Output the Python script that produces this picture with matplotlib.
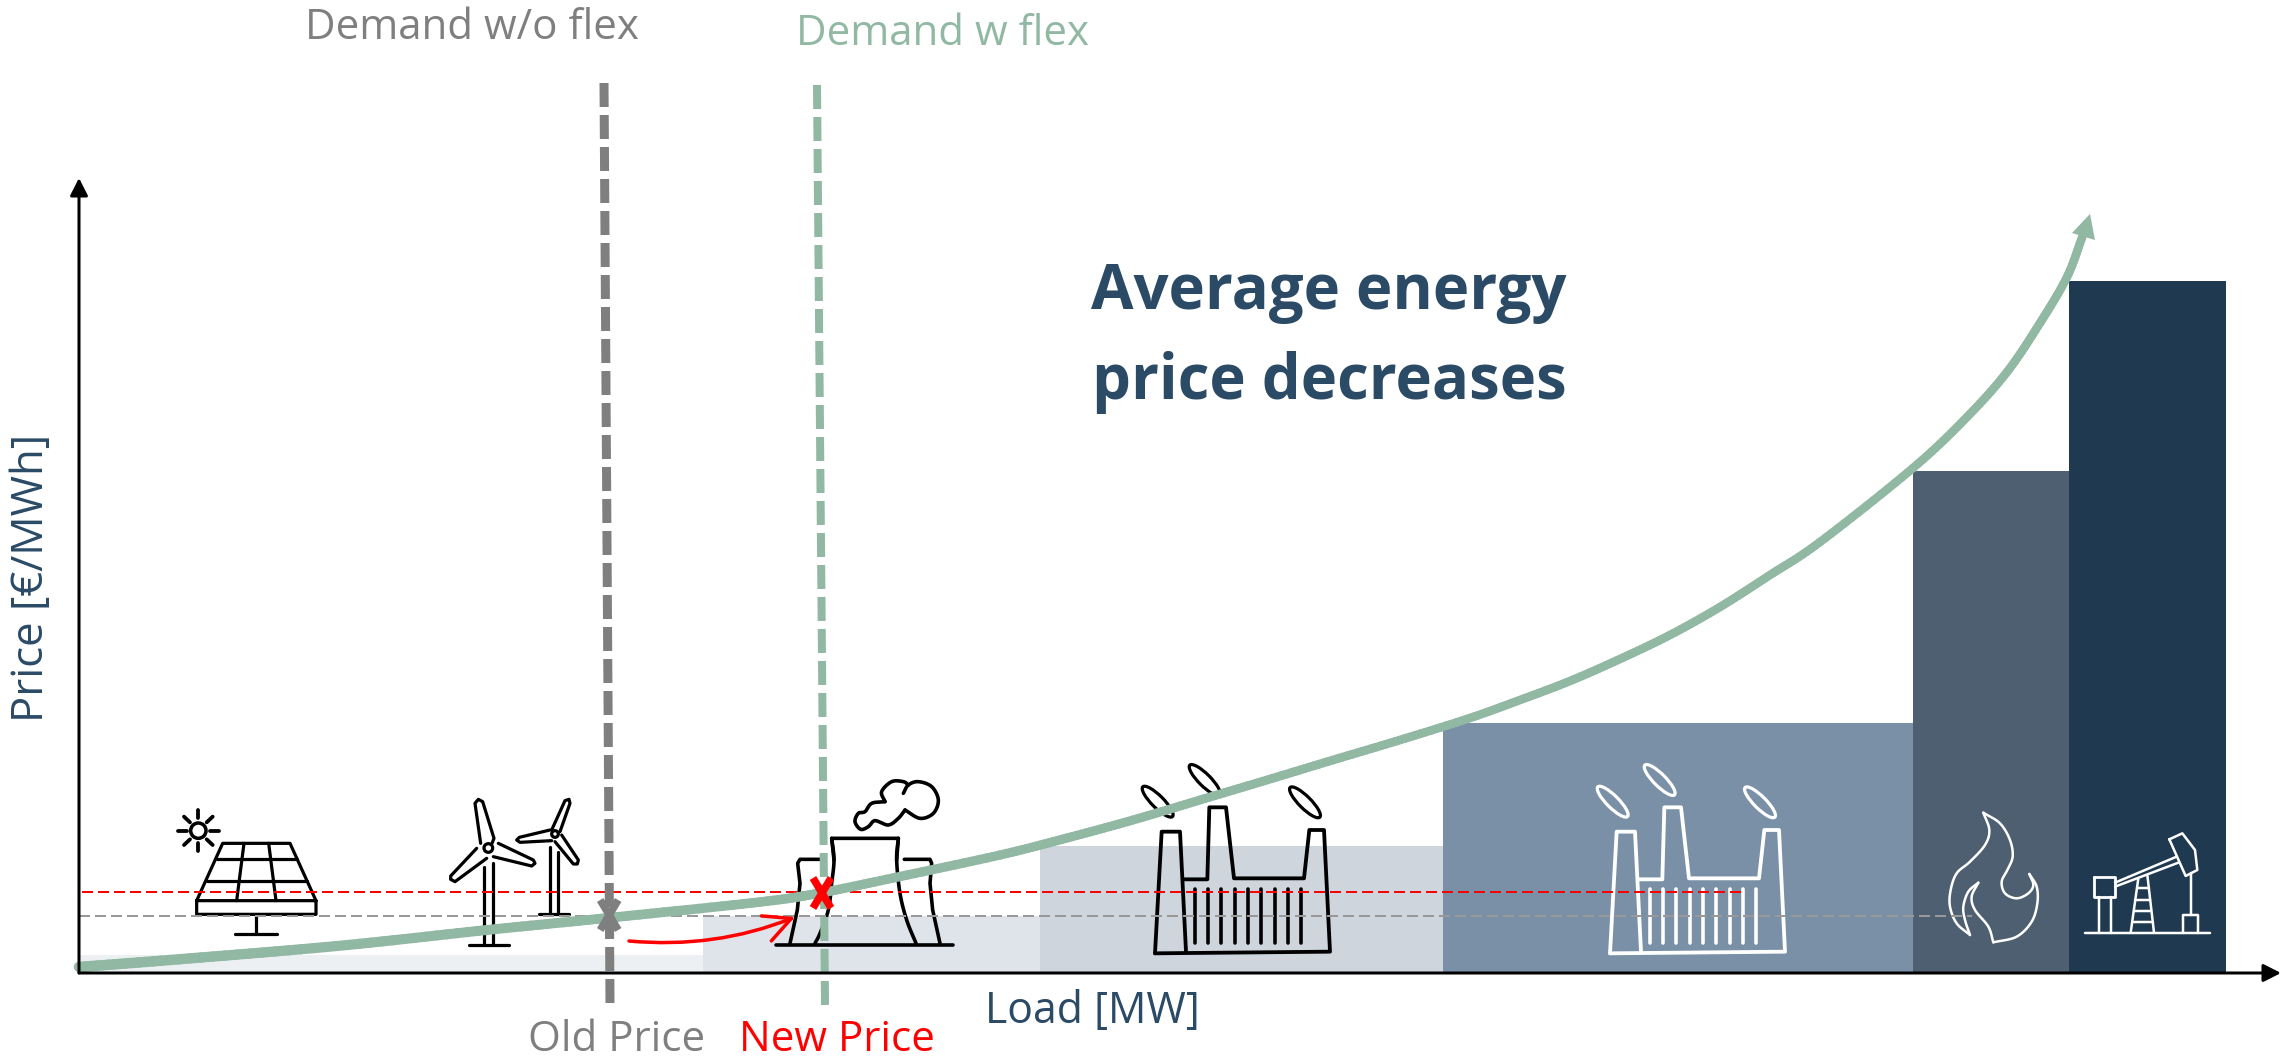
import numpy as np
import matplotlib
matplotlib.use('Agg')
import matplotlib.pyplot as plt
from matplotlib.collections import LineCollection
from matplotlib.patches import Ellipse, Circle, Polygon

# Supply stack (no scale on the axes, so picture units)
load_edges = [0, 624, 961, 1364, 1834, 1990, 2147]
stack_price = [18, 57, 127, 250, 502, 692]
stack_colors = ['#ecf0f3', '#dfe3ea', '#cfd5dd', '#7a90a6', '#4d5f71', '#1f3a50']

# Merit order curve
curve_load = [0, 91, 258, 408, 528, 681, 741, 814, 921, 988, 1054, 1121, 1188, 1254, 1321,
              1391, 1441, 1491, 1541, 1591, 1641, 1691, 1741, 1834, 1888, 1928, 1961, 1988, 2004]
curve_price = [6, 13, 27, 43, 55, 71, 80, 95, 118, 135, 153, 173, 193, 213, 233,
               255, 273, 292, 314, 338, 366, 398, 431, 505, 556, 601, 650, 696, 738]
curve_tip = (2011, 759)

old_demand = [525, 531]
new_demand = [738, 746]
old_price = 57
new_price = 81

GREEN = '#91b8a3'
GREY = '#7f7f7f'
BLUE = '#2a4a66'
RED = '#ff0000'
ORIGIN_X = 79
AXIS_Y = 973
PX = 0.72  # points per pixel at dpi 100

plt.rcParams['font.family'] = ['Open Sans', 'DejaVu Sans']

fig = plt.figure(figsize=(22.86, 10.62), dpi=100)
ax = fig.add_axes([0, 0, 1, 1])
ax.set_xlim(-ORIGIN_X, 2286 - ORIGIN_X)
ax.set_ylim(AXIS_Y - 1062, AXIS_Y)
ax.axis('off')


def crop(pts, ox, oy):
    # icon points were read in 3x crops, ox/oy is the crop corner in pixels
    pts = np.array(pts, dtype=float)
    return ox + pts[:, 0] / 3 - ORIGIN_X, AXIS_Y - (oy + pts[:, 1] / 3)


def smooth(x, y, n=14):
    # Catmull-Rom through the given points, only to round off the drawn line
    x = np.array(x, dtype=float)
    y = np.array(y, dtype=float)
    px = np.r_[2 * x[0] - x[1], x, 2 * x[-1] - x[-2]]
    py = np.r_[2 * y[0] - y[1], y, 2 * y[-1] - y[-2]]
    t = np.linspace(0, 1, n, endpoint=False)[:, None]
    out_x, out_y = [], []
    for i in range(1, len(px) - 2):
        for p, out in ((px, out_x), (py, out_y)):
            a, b, c, d = p[i - 1], p[i], p[i + 1], p[i + 2]
            v = 0.5 * (2 * b + (c - a) * t + (2 * a - 5 * b + 4 * c - d) * t ** 2 + (3 * b - a - 3 * c + d) * t ** 3)
            out.extend(v.ravel())
    out_x.append(x[-1])
    out_y.append(y[-1])
    return np.array(out_x), np.array(out_y)


def stroke(pts, ox, oy, color='black', lw=3.2, curved=False, z=2):
    x, y = crop(pts, ox, oy)
    if curved:
        x, y = smooth(x, y)
    ax.plot(x, y, color=color, lw=lw * PX, solid_capstyle='round', solid_joinstyle='round', zorder=z)


def ring(cx, cy, r, ox, oy, color='black', lw=3.2):
    x, y = crop([(cx, cy)], ox, oy)
    ax.add_patch(Circle((x[0], y[0]), r / 3, fill=False, ec=color, lw=lw * PX, zorder=2))


def factory(ox, oy, color):
    stroke([(105, 610), (125, 245), (180, 245), (198, 605)], ox, oy, color, 3.8)
    stroke([(105, 610), (630, 605), (612, 240), (568, 240), (552, 385), (342, 385),
            (318, 172), (268, 172), (262, 388), (190, 388)], ox, oy, color, 3.8)
    for sx in range(224, 545, 40):
        stroke([(sx, 418), (sx, 578)], ox, oy, color, 3.6)
    for ex, ey in [(113, 155), (254, 90), (555, 157)]:
        x, y = crop([(ex, ey)], ox, oy)
        ax.add_patch(Ellipse((x[0], y[0]), 42, 12, angle=-45, fill=False, ec=color, lw=3.2 * PX, zorder=2))


# Stack bars
ax.bar(load_edges[:-1], stack_price, width=np.diff(load_edges), align='edge',
       color=stack_colors, linewidth=0, zorder=1)

# Solar panel
SOL = (170, 780)
ring(85, 152, 23, *SOL, lw=3.5)
for a, b in [((85, 90), (85, 115)), ((85, 190), (85, 212)), ((25, 152), (50, 152)), ((120, 152), (147, 152)),
             ((42, 110), (60, 127)), ((128, 110), (110, 127)), ((42, 195), (60, 178)), ((128, 195), (110, 178))]:
    stroke([a, b], *SOL, lw=3.8)
stroke([(80, 362), (158, 190), (360, 190), (438, 362), (80, 362), (80, 403), (438, 403), (438, 362)], *SOL)
stroke([(142, 238), (382, 238)], *SOL)
stroke([(112, 302), (412, 302)], *SOL)
stroke([(222, 190), (200, 362)], *SOL)
stroke([(296, 190), (318, 362)], *SOL)
stroke([(258, 403), (258, 462)], *SOL)
stroke([(195, 462), (322, 462)], *SOL)

# Wind turbines
ring(955, 204, 13, *SOL)
stroke([(942, 260), (942, 490)], *SOL)
stroke([(970, 248), (970, 490)], *SOL)
stroke([(897, 494), (1017, 494)], *SOL)
stroke([(932, 190), (915, 70), (925, 58), (938, 65), (972, 175), (966, 190)], *SOL)
stroke([(985, 190), (1090, 240), (1095, 250), (1085, 258), (970, 230)], *SOL)
stroke([(920, 205), (842, 288), (842, 298), (855, 305), (950, 235)], *SOL)
ring(1155, 162, 10, *SOL)
stroke([(1141, 200), (1141, 400)], *SOL)
stroke([(1163, 215), (1163, 400)], *SOL)
stroke([(1108, 403), (1196, 403)], *SOL)
stroke([(1145, 150), (1185, 62), (1197, 58), (1200, 70), (1170, 155)], *SOL)
stroke([(1140, 150), (1048, 172), (1040, 180), (1050, 187), (1145, 182)], *SOL)
stroke([(1175, 165), (1225, 240), (1222, 252), (1210, 252), (1155, 185)], *SOL)

# Nuclear plant
NUC = (760, 760)
stroke([(48, 554), (580, 554)], *NUC, lw=3.6)
stroke([(222, 300), (215, 235), (415, 235), (410, 300)], *NUC, lw=3.6)
stroke([(215, 235), (222, 300), (215, 370), (205, 450), (180, 520), (165, 550)], *NUC, curved=True, lw=3.6)
stroke([(415, 235), (410, 300), (420, 400), (440, 480), (468, 550)], *NUC, curved=True, lw=3.6)
stroke([(180, 298), (120, 298), (113, 310), (120, 370), (112, 450), (90, 550)], *NUC, lw=3.6)
stroke([(433, 298), (510, 298), (515, 310), (510, 370), (518, 450), (540, 550)], *NUC, lw=3.6)
stroke([(375, 125), (335, 130), (315, 155), (295, 160), (285, 185), (302, 208), (325, 200),
        (345, 182), (385, 195), (415, 175), (435, 150)], *NUC, curved=True, lw=3.6)
stroke([(375, 125), (365, 95), (395, 65), (430, 65), (445, 75)], *NUC, curved=True, lw=3.6)
stroke([(430, 100), (445, 75), (475, 65), (515, 80), (535, 120), (520, 160), (480, 175), (435, 150)],
       *NUC, curved=True, lw=3.6)

# Coal and lignite plants share one drawing
factory(1120, 750, 'black')
factory(1575, 750, 'white')

# Flame
FL = (1920, 790)
stroke([(190, 68), (240, 100), (270, 150), (278, 200), (262, 240), (245, 275), (255, 310), (290, 325),
        (325, 310), (340, 285), (328, 252)], *FL, 'white', 2.5, curved=True)
stroke([(328, 252), (350, 290), (352, 340), (335, 395), (290, 440), (220, 457)], *FL, 'white', 2.5, curved=True)
stroke([(220, 457), (205, 410), (165, 360), (155, 320), (175, 278)], *FL, 'white', 2.5, curved=True)
stroke([(175, 278), (145, 305), (130, 350), (135, 390), (150, 435)], *FL, 'white', 2.5, curved=True)
stroke([(150, 435), (110, 400), (90, 350), (92, 300), (110, 250), (150, 215), (195, 165), (208, 120), (190, 68)],
       *FL, 'white', 2.5, curved=True)

# Pump jack
stroke([(495, 428), (870, 428)], *FL, 'white', 2.5)
stroke([(522, 260), (585, 260), (585, 320), (522, 320), (522, 260)], *FL, 'white', 2.8)
stroke([(538, 320), (538, 428)], *FL, 'white', 2.5)
stroke([(572, 320), (572, 428)], *FL, 'white', 2.5)
stroke([(585, 278), (770, 200)], *FL, 'white', 2.5)
stroke([(585, 290), (775, 218)], *FL, 'white', 2.5)
stroke([(748, 148), (787, 130), (825, 180), (832, 240), (797, 258), (748, 148)], *FL, 'white', 2.5)
stroke([(812, 250), (812, 375)], *FL, 'white', 2.5)
stroke([(790, 428), (790, 375), (833, 375), (833, 428)], *FL, 'white', 2.5)
stroke([(655, 265), (632, 428)], *FL, 'white', 2.5)
stroke([(682, 255), (702, 428)], *FL, 'white', 2.5)
for ry, x0, x1 in [(295, 650, 686), (330, 646, 690), (362, 642, 694), (395, 638, 698)]:
    stroke([(x0, ry), (x1, ry)], *FL, 'white', 2.5)

# Price levels
ax.plot([0, 1893], [old_price, old_price], color='#999999', lw=2 * PX, ls=(0, (5.5, 2.5)), zorder=3)
ax.plot([3, 1663], [new_price, new_price], color=RED, lw=2 * PX, ls=(0, (5.5, 2.5)), zorder=3)

# Demand lines, slightly tilted in the picture
ax.plot(old_demand, [890, -30], color=GREY, lw=9 * PX, ls=(0, (24 / 9, 8 / 9)), dash_capstyle='butt', zorder=4)
ax.plot(new_demand, [888, -33], color=GREEN, lw=8 * PX, ls=(0, (3, 1)), dash_capstyle='butt', zorder=4)

# Axes
for end in [(0, 795), (2202, 0)]:
    ax.annotate('', xy=end, xytext=(0, 0), zorder=6, annotation_clip=False,
                arrowprops=dict(arrowstyle='-|>,head_length=0.75,head_width=0.38', mutation_scale=14 * PX * 1.4,
                                lw=3 * PX, color='black', shrinkA=0, shrinkB=0))

# Curve with arrow head, the stroke gets thinner towards the right
cx, cy = smooth(curve_load, curve_price)
pts = np.column_stack([cx, cy])
segs = np.stack([pts[:-1], pts[1:]], axis=1)
widths = np.interp(cx[:-1], [0, 1400], [10.5, 8.5]) * PX
ax.add_collection(LineCollection(segs, colors=GREEN, linewidths=widths, capstyle='round', zorder=5))
ax.add_patch(Polygon([curve_tip, (1993, 740), (2016, 733)], closed=True, fc=GREEN, ec='none', zorder=5))

# Crossing marks
for mx, my, col, w, h in [(old_demand[0] + 5.2, old_price + 1, GREY, 9, 15), (743, new_price - 1, RED, 9, 15)]:
    ax.plot([mx - w, mx + w], [my - h, my + h], color=col, lw=7.5 * PX, solid_capstyle='butt', zorder=7)
    ax.plot([mx - w, mx + w], [my + h, my - h], color=col, lw=7.5 * PX, solid_capstyle='butt', zorder=7)

# Shift arrow
ax.annotate('', xy=(716, 56), xytext=(550, 32), zorder=7,
            arrowprops=dict(arrowstyle='->,head_length=1.2,head_width=0.6', mutation_scale=14 * PX * 1.6,
                            lw=3.5 * PX, color=RED, shrinkA=0, shrinkB=0, connectionstyle='arc3,rad=0.12'))

# Labels
FS = 30.3
ax.text(472 - ORIGIN_X, AXIS_Y - 28, 'Demand w/o flex', color=GREY, fontsize=FS, ha='center', va='center')
ax.text(943 - ORIGIN_X, AXIS_Y - 34, 'Demand w flex', color=GREEN, fontsize=FS, ha='center', va='center')
ax.text(617 - ORIGIN_X, AXIS_Y - 1040, 'Old Price', color=GREY, fontsize=FS, ha='center', va='center')
ax.text(837 - ORIGIN_X, AXIS_Y - 1040, 'New Price', color=RED, fontsize=FS, ha='center', va='center')
ax.text(1092 - ORIGIN_X, AXIS_Y - 1012, 'Load [MW]', color=BLUE, fontsize=30.8, ha='center', va='center')
ax.text(32 - ORIGIN_X, AXIS_Y - 578, 'Price [€/MWh]', color=BLUE, fontsize=31.5, ha='center', va='center', rotation=90)
ax.text(1329 - ORIGIN_X, AXIS_Y - 292, 'Average energy', color=BLUE, fontsize=44.4, fontweight='bold', ha='center', va='center')
ax.text(1329 - ORIGIN_X, AXIS_Y - 382, 'price decreases', color=BLUE, fontsize=44.4, fontweight='bold', ha='center', va='center')

fig.savefig('out.png', dpi=100)
